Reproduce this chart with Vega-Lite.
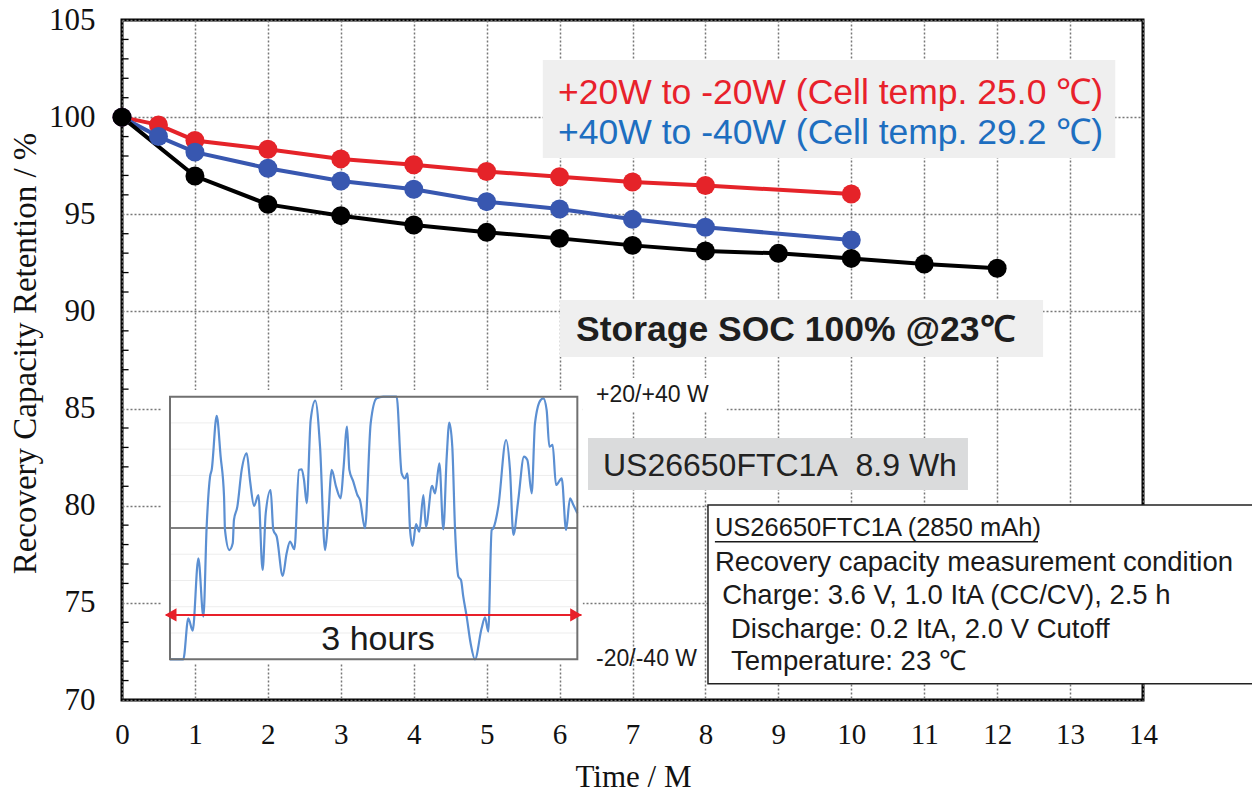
{
  "$schema": "https://vega.github.io/schema/vega-lite/v6.json",
  "width": 1021,
  "height": 680,
  "autosize": {"type": "none"},
  "padding": {"left": 122, "top": 20, "right": 109, "bottom": 98},
  "background": "white",
  "config": {
    "view": {"stroke": "#000", "strokeWidth": 3},
    "text": {"font": "Liberation Sans"}
  },
  "datasets": {
    "ret": [
      {"month": 0, "series": "+20W to -20W", "retention": 100},
      {"month": 0.5, "series": "+20W to -20W", "retention": 99.6},
      {"month": 1, "series": "+20W to -20W", "retention": 98.8},
      {"month": 2, "series": "+20W to -20W", "retention": 98.35},
      {"month": 3, "series": "+20W to -20W", "retention": 97.85},
      {"month": 4, "series": "+20W to -20W", "retention": 97.55},
      {"month": 5, "series": "+20W to -20W", "retention": 97.2},
      {"month": 6, "series": "+20W to -20W", "retention": 96.93},
      {"month": 7, "series": "+20W to -20W", "retention": 96.66},
      {"month": 8, "series": "+20W to -20W", "retention": 96.48},
      {"month": 10, "series": "+20W to -20W", "retention": 96.04},
      {"month": 0, "series": "+40W to -40W", "retention": 100},
      {"month": 0.5, "series": "+40W to -40W", "retention": 99.0},
      {"month": 1, "series": "+40W to -40W", "retention": 98.2},
      {"month": 2, "series": "+40W to -40W", "retention": 97.37},
      {"month": 3, "series": "+40W to -40W", "retention": 96.71},
      {"month": 4, "series": "+40W to -40W", "retention": 96.29},
      {"month": 5, "series": "+40W to -40W", "retention": 95.65},
      {"month": 6, "series": "+40W to -40W", "retention": 95.27},
      {"month": 7, "series": "+40W to -40W", "retention": 94.74},
      {"month": 8, "series": "+40W to -40W", "retention": 94.33},
      {"month": 10, "series": "+40W to -40W", "retention": 93.68},
      {"month": 0, "series": "Storage SOC 100%", "retention": 100},
      {"month": 1, "series": "Storage SOC 100%", "retention": 96.97},
      {"month": 2, "series": "Storage SOC 100%", "retention": 95.51},
      {"month": 3, "series": "Storage SOC 100%", "retention": 94.93},
      {"month": 4, "series": "Storage SOC 100%", "retention": 94.45},
      {"month": 5, "series": "Storage SOC 100%", "retention": 94.07},
      {"month": 6, "series": "Storage SOC 100%", "retention": 93.76},
      {"month": 7, "series": "Storage SOC 100%", "retention": 93.4},
      {"month": 8, "series": "Storage SOC 100%", "retention": 93.11},
      {"month": 9, "series": "Storage SOC 100%", "retention": 92.99},
      {"month": 10, "series": "Storage SOC 100%", "retention": 92.73},
      {"month": 11, "series": "Storage SOC 100%", "retention": 92.44},
      {"month": 12, "series": "Storage SOC 100%", "retention": 92.22}
    ],
    "minor": [
      {"t": 71}, {"t": 72}, {"t": 73}, {"t": 74}, {"t": 76}, {"t": 77}, {"t": 78}, {"t": 79},
      {"t": 81}, {"t": 82}, {"t": 83}, {"t": 84}, {"t": 86}, {"t": 87}, {"t": 88}, {"t": 89},
      {"t": 91}, {"t": 92}, {"t": 93}, {"t": 94}, {"t": 96}, {"t": 97}, {"t": 98}, {"t": 99},
      {"t": 101}, {"t": 102}, {"t": 103}, {"t": 104}
    ],
    "faint": [
      {"p": -0.8}, {"p": -0.6}, {"p": -0.4}, {"p": -0.2}, {"p": 0.2}, {"p": 0.4}, {"p": 0.6}, {"p": 0.8}
    ],
    "power": [
      {"hours": 0, "power": -1.0}, {"hours": 0.098, "power": -1.0}, {"hours": 0.135, "power": -0.688},
      {"hours": 0.167, "power": -0.782}, {"hours": 0.209, "power": -0.231}, {"hours": 0.246, "power": -0.675},
      {"hours": 0.27, "power": 0.01}, {"hours": 0.295, "power": 0.391}, {"hours": 0.307, "power": 0.442},
      {"hours": 0.344, "power": 0.853}, {"hours": 0.373, "power": 0.543}, {"hours": 0.398, "power": 0.239},
      {"hours": 0.405, "power": -0.015}, {"hours": 0.437, "power": -0.168}, {"hours": 0.462, "power": -0.117},
      {"hours": 0.471, "power": 0.061}, {"hours": 0.496, "power": 0.162}, {"hours": 0.528, "power": 0.442},
      {"hours": 0.565, "power": 0.569}, {"hours": 0.589, "power": 0.365}, {"hours": 0.619, "power": 0.168},
      {"hours": 0.651, "power": 0.251}, {"hours": 0.682, "power": -0.32}, {"hours": 0.705, "power": 0.112},
      {"hours": 0.741, "power": 0.289}, {"hours": 0.761, "power": -0.015}, {"hours": 0.786, "power": -0.066},
      {"hours": 0.83, "power": -0.365}, {"hours": 0.859, "power": -0.193}, {"hours": 0.884, "power": -0.104},
      {"hours": 0.916, "power": -0.162}, {"hours": 0.95, "power": 0.442}, {"hours": 0.97, "power": 0.447},
      {"hours": 0.987, "power": 0.365}, {"hours": 1.007, "power": 0.188}, {"hours": 1.036, "power": 0.822},
      {"hours": 1.07, "power": 0.97}, {"hours": 1.105, "power": 0.619}, {"hours": 1.142, "power": -0.168},
      {"hours": 1.161, "power": 0.01}, {"hours": 1.191, "power": 0.442}, {"hours": 1.223, "power": 0.315},
      {"hours": 1.257, "power": 0.226}, {"hours": 1.277, "power": 0.442}, {"hours": 1.304, "power": 0.772},
      {"hours": 1.321, "power": 0.442}, {"hours": 1.35, "power": 0.353}, {"hours": 1.38, "power": 0.251},
      {"hours": 1.399, "power": 0.213}, {"hours": 1.436, "power": -0.003}, {"hours": 1.478, "power": 0.797},
      {"hours": 1.522, "power": 0.987}, {"hours": 1.571, "power": 1.0}, {"hours": 1.669, "power": 1.0},
      {"hours": 1.706, "power": 0.416}, {"hours": 1.731, "power": 0.378}, {"hours": 1.748, "power": 0.416},
      {"hours": 1.768, "power": -0.015}, {"hours": 1.787, "power": -0.137}, {"hours": 1.812, "power": 0.03},
      {"hours": 1.836, "power": -0.028}, {"hours": 1.866, "power": 0.251}, {"hours": 1.885, "power": 0.01},
      {"hours": 1.93, "power": 0.32}, {"hours": 1.952, "power": 0.264}, {"hours": 1.984, "power": 0.492},
      {"hours": 2.013, "power": -0.01}, {"hours": 2.038, "power": 0.543}, {"hours": 2.057, "power": 0.802},
      {"hours": 2.079, "power": 0.619}, {"hours": 2.099, "power": -0.003}, {"hours": 2.124, "power": -0.371},
      {"hours": 2.143, "power": -0.396}, {"hours": 2.16, "power": -0.523}, {"hours": 2.185, "power": -0.675},
      {"hours": 2.214, "power": -0.878}, {"hours": 2.246, "power": -1.0}, {"hours": 2.295, "power": -0.764},
      {"hours": 2.32, "power": -0.68}, {"hours": 2.344, "power": -0.789}, {"hours": 2.369, "power": -0.015},
      {"hours": 2.381, "power": -0.003}, {"hours": 2.418, "power": 0.162}, {"hours": 2.475, "power": 0.67},
      {"hours": 2.504, "power": 0.442}, {"hours": 2.529, "power": -0.053}, {"hours": 2.565, "power": 0.213},
      {"hours": 2.607, "power": 0.543}, {"hours": 2.632, "power": 0.518}, {"hours": 2.664, "power": 0.264},
      {"hours": 2.688, "power": 0.797}, {"hours": 2.73, "power": 0.975}, {"hours": 2.75, "power": 0.987},
      {"hours": 2.774, "power": 0.898}, {"hours": 2.794, "power": 0.619}, {"hours": 2.818, "power": 0.632},
      {"hours": 2.843, "power": 0.327}, {"hours": 2.885, "power": 0.378}, {"hours": 2.917, "power": -0.015},
      {"hours": 2.946, "power": 0.226}, {"hours": 2.971, "power": 0.175}, {"hours": 3.0, "power": 0.112}
    ],
    "one": [{}]
  },
  "resolve": {"scale": {"x": "independent", "y": "independent"}},
  "layer": [
    {
      "layer": [
        {
          "data": {"name": "ret"},
          "mark": {"type": "line", "strokeWidth": 4},
          "encoding": {
            "x": {
              "field": "month", "type": "quantitative",
              "scale": {"domain": [0, 14], "nice": false, "zero": false},
              "axis": {
                "values": [0,1,2,3,4,5,6,7,8,9,10,11,12,13,14],
                "format": "d",
                "title": "Time / M",
                "titleFont": "Liberation Serif", "titleFontSize": 31, "titleFontWeight": "normal", "titleColor": "#111",
                "titleX": 511, "titleY": 77, "titleBaseline": "middle", "titleAlign": "center",
                "labelFont": "Liberation Serif", "labelFontSize": 29, "labelColor": "#111", "labelPadding": 20,
                "labelFlush": false, "labelOverlap": false,
                "domain": false, "ticks": false,
                "grid": true, "gridColor": "#777", "gridDash": [2, 2], "gridWidth": 1.5
              }
            },
            "y": {
              "field": "retention", "type": "quantitative",
              "scale": {"domain": [70, 105], "nice": false, "zero": false},
              "axis": {
                "values": [70, 75, 80, 85, 90, 95, 100, 105],
                "title": "Recovery Capacity Retention / %",
                "titleFont": "Liberation Serif", "titleFontSize": 33, "titleFontWeight": "normal", "titleColor": "#111",
                "titleX": -97, "titleY": 333, "titleBaseline": "middle", "titleAlign": "center", "titleAngle": -90,
                "labelFont": "Liberation Serif", "labelFontSize": 31, "labelColor": "#111", "labelPadding": 27,
                "labelFlush": false, "labelOverlap": false,
                "domain": false, "ticks": false,
                "grid": true, "gridColor": "#777", "gridDash": [2, 2], "gridWidth": 1.5
              }
            },
            "color": {
              "field": "series", "type": "nominal",
              "scale": {"domain": ["+20W to -20W", "+40W to -40W", "Storage SOC 100%"], "range": ["#E52329", "#3857B0", "#000000"]},
              "legend": null
            },
            "detail": {"field": "series"}
          }
        },
        {
          "data": {"name": "ret"},
          "mark": {"type": "point", "filled": true, "opacity": 1, "size": 360},
          "encoding": {
            "x": {"field": "month", "type": "quantitative", "scale": {"domain": [0, 14], "nice": false, "zero": false}},
            "y": {"field": "retention", "type": "quantitative", "scale": {"domain": [70, 105], "nice": false, "zero": false}},
            "color": {
              "field": "series", "type": "nominal",
              "scale": {"domain": ["+20W to -20W", "+40W to -40W", "Storage SOC 100%"], "range": ["#E52329", "#3857B0", "#000000"]},
              "legend": null
            }
          }
        },
        {
          "data": {"name": "minor"},
          "mark": {"type": "rule", "color": "#000", "strokeWidth": 1.3},
          "encoding": {
            "x": {"datum": 0, "type": "quantitative", "scale": {"domain": [0, 14], "nice": false, "zero": false}},
            "x2": {"datum": 0.09},
            "y": {"field": "t", "type": "quantitative", "scale": {"domain": [70, 105], "nice": false, "zero": false}}
          }
        },
        {
          "data": {"name": "one"},
          "mark": {"type": "rect", "fill": "#EFEFEF"},
          "encoding": {
            "x": {"datum": 5.77, "type": "quantitative", "scale": {"domain": [0, 14], "nice": false, "zero": false}},
            "x2": {"datum": 13.62},
            "y": {"datum": 102.94, "type": "quantitative", "scale": {"domain": [70, 105], "nice": false, "zero": false}},
            "y2": {"datum": 97.9}
          }
        },
        {
          "data": {"name": "one"},
          "mark": {"type": "text", "align": "left", "baseline": "middle", "fontSize": 35.5, "color": "#E8212B"},
          "encoding": {
            "x": {"datum": 5.98, "type": "quantitative", "scale": {"domain": [0, 14], "nice": false, "zero": false}},
            "y": {"datum": 101.24, "type": "quantitative", "scale": {"domain": [70, 105], "nice": false, "zero": false}},
            "text": {"value": "+20W to -20W (Cell temp. 25.0 ℃)"}
          }
        },
        {
          "data": {"name": "one"},
          "mark": {"type": "text", "align": "left", "baseline": "middle", "fontSize": 35.5, "color": "#1D6EC0"},
          "encoding": {
            "x": {"datum": 5.98, "type": "quantitative", "scale": {"domain": [0, 14], "nice": false, "zero": false}},
            "y": {"datum": 99.18, "type": "quantitative", "scale": {"domain": [70, 105], "nice": false, "zero": false}},
            "text": {"value": "+40W to -40W (Cell temp. 29.2 ℃)"}
          }
        },
        {
          "data": {"name": "one"},
          "mark": {"type": "rect", "fill": "#EFEFEF"},
          "encoding": {
            "x": {"datum": 6.006, "type": "quantitative", "scale": {"domain": [0, 14], "nice": false, "zero": false}},
            "x2": {"datum": 12.63},
            "y": {"datum": 90.59, "type": "quantitative", "scale": {"domain": [70, 105], "nice": false, "zero": false}},
            "y2": {"datum": 87.66}
          }
        },
        {
          "data": {"name": "one"},
          "mark": {"type": "text", "align": "left", "baseline": "middle", "fontSize": 35.5, "fontWeight": "bold", "color": "#1E1E1E"},
          "encoding": {
            "x": {"datum": 6.225, "type": "quantitative", "scale": {"domain": [0, 14], "nice": false, "zero": false}},
            "y": {"datum": 89.05, "type": "quantitative", "scale": {"domain": [70, 105], "nice": false, "zero": false}},
            "text": {"value": "Storage SOC 100% @23℃"}
          }
        },
        {
          "data": {"name": "one"},
          "mark": {"type": "rect", "fill": "#DADBDC"},
          "encoding": {
            "x": {"datum": 6.39, "type": "quantitative", "scale": {"domain": [0, 14], "nice": false, "zero": false}},
            "x2": {"datum": 11.6},
            "y": {"datum": 83.49, "type": "quantitative", "scale": {"domain": [70, 105], "nice": false, "zero": false}},
            "y2": {"datum": 80.81}
          }
        },
        {
          "data": {"name": "one"},
          "mark": {"type": "text", "align": "left", "baseline": "middle", "fontSize": 32, "color": "#222"},
          "encoding": {
            "x": {"datum": 6.595, "type": "quantitative", "scale": {"domain": [0, 14], "nice": false, "zero": false}},
            "y": {"datum": 82.05, "type": "quantitative", "scale": {"domain": [70, 105], "nice": false, "zero": false}},
            "text": {"value": "US26650FTC1A\u00a0 8.9 Wh"}
          }
        },
        {
          "data": {"name": "one"},
          "mark": {"type": "rect", "fill": "white", "stroke": "#222", "strokeWidth": 1.5},
          "encoding": {
            "x": {"datum": 8.035, "type": "quantitative", "scale": {"domain": [0, 14], "nice": false, "zero": false}},
            "x2": {"datum": 15.7},
            "y": {"datum": 80.04, "type": "quantitative", "scale": {"domain": [70, 105], "nice": false, "zero": false}},
            "y2": {"datum": 70.83}
          }
        },
        {
          "data": {"name": "one"},
          "mark": {"type": "text", "align": "left", "baseline": "middle", "fontSize": 25.5, "color": "#1a1a1a"},
          "encoding": {
            "x": {"datum": 8.13, "type": "quantitative", "scale": {"domain": [0, 14], "nice": false, "zero": false}},
            "y": {"datum": 78.85, "type": "quantitative", "scale": {"domain": [70, 105], "nice": false, "zero": false}},
            "text": {"value": "US26650FTC1A (2850 mAh)"}
          }
        },
        {
          "data": {"name": "one"},
          "mark": {"type": "rule", "color": "#1a1a1a", "strokeWidth": 1.5},
          "encoding": {
            "x": {"datum": 8.13, "type": "quantitative", "scale": {"domain": [0, 14], "nice": false, "zero": false}},
            "x2": {"datum": 12.56},
            "y": {"datum": 78.15, "type": "quantitative", "scale": {"domain": [70, 105], "nice": false, "zero": false}}
          }
        },
        {
          "data": {"name": "one"},
          "mark": {"type": "text", "align": "left", "baseline": "middle", "fontSize": 27.5, "color": "#1a1a1a"},
          "encoding": {
            "x": {"datum": 8.13, "type": "quantitative", "scale": {"domain": [0, 14], "nice": false, "zero": false}},
            "y": {"datum": 77.05, "type": "quantitative", "scale": {"domain": [70, 105], "nice": false, "zero": false}},
            "text": {"value": "Recovery capacity measurement condition"}
          }
        },
        {
          "data": {"name": "one"},
          "mark": {"type": "text", "align": "left", "baseline": "middle", "fontSize": 27.5, "color": "#1a1a1a"},
          "encoding": {
            "x": {"datum": 8.23, "type": "quantitative", "scale": {"domain": [0, 14], "nice": false, "zero": false}},
            "y": {"datum": 75.36, "type": "quantitative", "scale": {"domain": [70, 105], "nice": false, "zero": false}},
            "text": {"value": "Charge: 3.6 V, 1.0 ItA (CC/CV), 2.5 h"}
          }
        },
        {
          "data": {"name": "one"},
          "mark": {"type": "text", "align": "left", "baseline": "middle", "fontSize": 27.5, "color": "#1a1a1a"},
          "encoding": {
            "x": {"datum": 8.35, "type": "quantitative", "scale": {"domain": [0, 14], "nice": false, "zero": false}},
            "y": {"datum": 73.61, "type": "quantitative", "scale": {"domain": [70, 105], "nice": false, "zero": false}},
            "text": {"value": "Discharge: 0.2 ItA, 2.0 V Cutoff"}
          }
        },
        {
          "data": {"name": "one"},
          "mark": {"type": "text", "align": "left", "baseline": "middle", "fontSize": 27.5, "color": "#1a1a1a"},
          "encoding": {
            "x": {"datum": 8.35, "type": "quantitative", "scale": {"domain": [0, 14], "nice": false, "zero": false}},
            "y": {"datum": 71.96, "type": "quantitative", "scale": {"domain": [70, 105], "nice": false, "zero": false}},
            "text": {"value": "Temperature: 23 ℃"}
          }
        }
      ]
    },
    {
      "layer": [
        {
          "data": {"name": "one"},
          "mark": {"type": "rect", "fill": "white"},
          "encoding": {
            "x": {"datum": -0.06, "type": "quantitative", "scale": {"domain": [-0.3535, 7.166], "nice": false, "zero": false}, "axis": null},
            "x2": {"datum": 3.04},
            "y": {"datum": 1.05, "type": "quantitative", "scale": {"domain": [-1.31, 3.868], "nice": false, "zero": false}, "axis": null},
            "y2": {"datum": -1.03}
          }
        },
        {
          "data": {"name": "faint"},
          "mark": {"type": "rule", "color": "#EDEDED", "strokeWidth": 1},
          "encoding": {
            "x": {"datum": 0, "type": "quantitative", "scale": {"domain": [-0.3535, 7.166], "nice": false, "zero": false}, "axis": null},
            "x2": {"datum": 3},
            "y": {"field": "p", "type": "quantitative", "scale": {"domain": [-1.31, 3.868], "nice": false, "zero": false}, "axis": null}
          }
        },
        {
          "data": {"name": "one"},
          "mark": {"type": "rule", "color": "#555", "strokeWidth": 1.5},
          "encoding": {
            "x": {"datum": 0, "type": "quantitative", "scale": {"domain": [-0.3535, 7.166], "nice": false, "zero": false}, "axis": null},
            "x2": {"datum": 3},
            "y": {"datum": 0, "type": "quantitative", "scale": {"domain": [-1.31, 3.868], "nice": false, "zero": false}, "axis": null}
          }
        },
        {
          "data": {"name": "power"},
          "mark": {"type": "line", "color": "#5B8FD2", "strokeWidth": 2.2, "interpolate": "monotone"},
          "encoding": {
            "x": {"field": "hours", "type": "quantitative", "scale": {"domain": [-0.3535, 7.166], "nice": false, "zero": false}, "axis": null},
            "y": {"field": "power", "type": "quantitative", "scale": {"domain": [-1.31, 3.868], "nice": false, "zero": false}, "axis": null}
          }
        },
        {
          "data": {"name": "one"},
          "mark": {"type": "rect", "fill": null, "fillOpacity": 0, "stroke": "#707070", "strokeWidth": 2},
          "encoding": {
            "x": {"datum": 0, "type": "quantitative", "scale": {"domain": [-0.3535, 7.166], "nice": false, "zero": false}, "axis": null},
            "x2": {"datum": 3},
            "y": {"datum": 1, "type": "quantitative", "scale": {"domain": [-1.31, 3.868], "nice": false, "zero": false}, "axis": null},
            "y2": {"datum": -1}
          }
        },
        {
          "data": {"name": "one"},
          "mark": {"type": "rule", "color": "#E8202A", "strokeWidth": 2},
          "encoding": {
            "x": {"datum": -0.03, "type": "quantitative", "scale": {"domain": [-0.3535, 7.166], "nice": false, "zero": false}, "axis": null},
            "x2": {"datum": 3.03},
            "y": {"datum": -0.662, "type": "quantitative", "scale": {"domain": [-1.31, 3.868], "nice": false, "zero": false}, "axis": null}
          }
        },
        {
          "data": {"name": "one"},
          "mark": {"type": "point", "shape": "triangle-left", "filled": true, "opacity": 1, "color": "#E8202A", "size": 180},
          "encoding": {
            "x": {"datum": 0.005, "type": "quantitative", "scale": {"domain": [-0.3535, 7.166], "nice": false, "zero": false}, "axis": null},
            "y": {"datum": -0.662, "type": "quantitative", "scale": {"domain": [-1.31, 3.868], "nice": false, "zero": false}, "axis": null}
          }
        },
        {
          "data": {"name": "one"},
          "mark": {"type": "point", "shape": "triangle-right", "filled": true, "opacity": 1, "color": "#E8202A", "size": 180},
          "encoding": {
            "x": {"datum": 2.99, "type": "quantitative", "scale": {"domain": [-0.3535, 7.166], "nice": false, "zero": false}, "axis": null},
            "y": {"datum": -0.662, "type": "quantitative", "scale": {"domain": [-1.31, 3.868], "nice": false, "zero": false}, "axis": null}
          }
        },
        {
          "data": {"name": "one"},
          "mark": {"type": "text", "align": "center", "baseline": "middle", "fontSize": 34, "color": "#1a1a1a"},
          "encoding": {
            "x": {"datum": 1.532, "type": "quantitative", "scale": {"domain": [-0.3535, 7.166], "nice": false, "zero": false}, "axis": null},
            "y": {"datum": -0.852, "type": "quantitative", "scale": {"domain": [-1.31, 3.868], "nice": false, "zero": false}, "axis": null},
            "text": {"value": "3 hours"}
          }
        },
        {
          "data": {"name": "one"},
          "mark": {"type": "rect", "fill": "white"},
          "encoding": {
            "x": {"datum": 3.04, "type": "quantitative", "scale": {"domain": [-0.3535, 7.166], "nice": false, "zero": false}, "axis": null},
            "x2": {"datum": 4.1},
            "y": {"datum": 1.142, "type": "quantitative", "scale": {"domain": [-1.31, 3.868], "nice": false, "zero": false}, "axis": null},
            "y2": {"datum": 0.884}
          }
        },
        {
          "data": {"name": "one"},
          "mark": {"type": "text", "align": "left", "baseline": "middle", "fontSize": 23, "color": "#1a1a1a"},
          "encoding": {
            "x": {"datum": 3.138, "type": "quantitative", "scale": {"domain": [-0.3535, 7.166], "nice": false, "zero": false}, "axis": null},
            "y": {"datum": 1.01, "type": "quantitative", "scale": {"domain": [-1.31, 3.868], "nice": false, "zero": false}, "axis": null},
            "text": {"value": "+20/+40 W"}
          }
        },
        {
          "data": {"name": "one"},
          "mark": {"type": "text", "align": "left", "baseline": "middle", "fontSize": 23, "color": "#1a1a1a"},
          "encoding": {
            "x": {"datum": 3.138, "type": "quantitative", "scale": {"domain": [-0.3535, 7.166], "nice": false, "zero": false}, "axis": null},
            "y": {"datum": -1.0, "type": "quantitative", "scale": {"domain": [-1.31, 3.868], "nice": false, "zero": false}, "axis": null},
            "text": {"value": "-20/-40 W"}
          }
        }
      ]
    }
  ]
}
